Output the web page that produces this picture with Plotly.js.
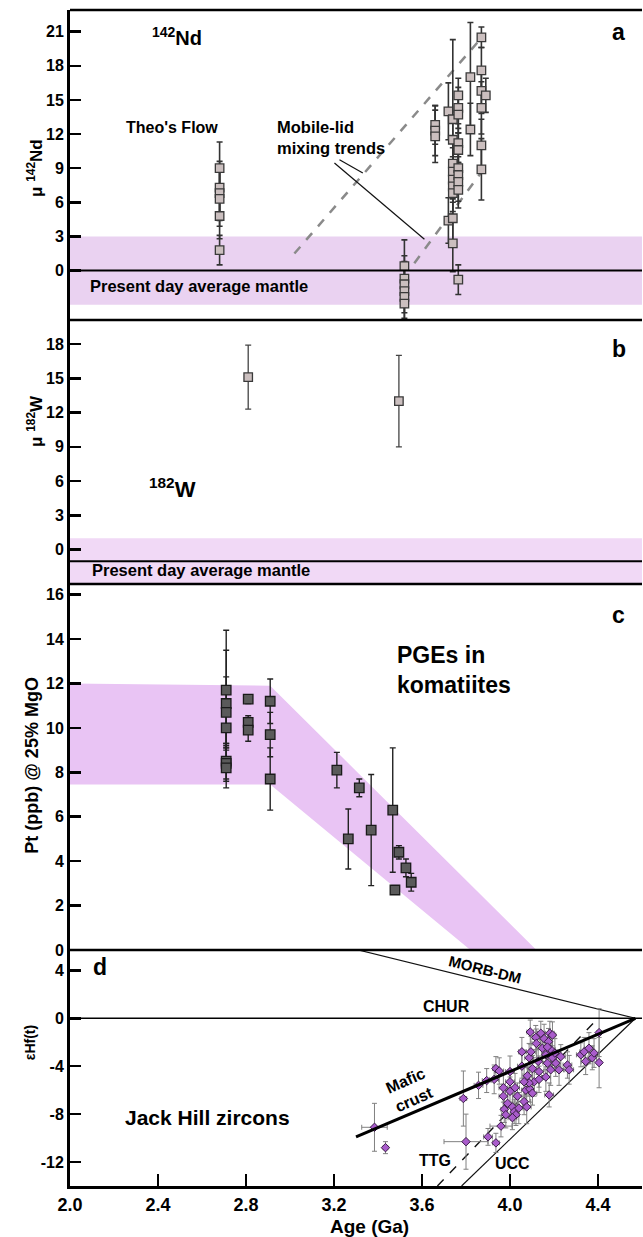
<!DOCTYPE html>
<html><head><meta charset="utf-8">
<script src="https://cdn.plot.ly/plotly-3.0.1.min.js"></script>
<style>html,body{margin:0;padding:0;background:#fff}#chart{width:643px;height:1237px}</style>
</head><body><div id="chart"></div>
<script>
// ---------- Panel a: mu 142Nd ----------
const ndAge = [2.68,2.68,2.68,2.68,2.68,2.68, 3.52,3.52,3.52,3.52,3.52,3.52, 3.66,3.66,3.66, 3.72,3.72,
  3.74,3.74,3.74,3.74,3.74,3.74,3.74,3.74,3.74, 3.765,3.765,3.765,3.765,3.765,3.765,3.765,3.765,3.765,3.765,
  3.82,3.82, 3.87,3.87,3.87,3.87,3.87,3.87, 3.89];
const ndMu = [9.0,7.3,6.8,6.3,4.8,1.8, 0.4,-0.7,-1.2,-1.8,-2.3,-2.9, 12.8,12.3,11.8, 14.0,4.4,
  13.3,11.5,9.4,8.7,8.0,7.4,6.8,4.6,2.4, 15.4,14.3,13.7,11.2,10.6,9.0,8.4,7.8,7.1,-0.8,
  17.0,12.4, 20.5,17.6,15.8,14.3,11.0,8.9, 15.4];
const ndErr = [2.3,2.3,2.4,2.4,2.0,1.3, 2.3,2.0,2.0,1.9,1.9,1.7, 1.7,2.2,2.3, 2.5,2.0,
  7.0,2.2,2.0,2.1,2.0,2.2,2.1,2.1,2.5, 1.5,1.8,1.6,1.7,1.5,1.8,1.6,1.7,1.6,1.3,
  4.8,2.3, 0.9,2.0,2.0,2.3,2.3,2.7, 1.5];
const ndBand = [-3, 3];
const mixUpperX = [3.02, 3.868], mixUpperY = [1.5, 20.4];
const mixLowerX = [3.565, 3.868], mixLowerY = [0.65, 8.6];
const leader1X = [3.225, 3.331], leader1Y = [9.74, 8.57];
const leader2X = [3.202, 3.611], leader2Y = [9.45, 2.76];

// ---------- Panel b: mu 182W ----------
const wAge = [2.81, 3.495];
const wMu = [15.1, 13.0];
const wErr = [2.8, 4.0];
const wBand = [-3, 1];
const wMantle = -1;

// ---------- Panel c: Pt in komatiites ----------
const pgeAge = [2.71,2.71,2.71,2.71,2.71,2.71,2.71, 2.81,2.81,2.81, 2.91,2.91,2.91,
  3.213,3.265,3.315,3.369,3.467,3.477,3.495,3.527,3.551];
const pgePt = [11.7,11.1,10.7,10.0,8.5,8.4,8.2, 11.3,10.25,9.9, 11.2,9.7,7.7,
  8.1,5.0,7.3,5.4,6.3,2.7,4.4,3.7,3.05];
const pgeErr = [2.7,2.4,1.6,0.7,0.8,0.8,0.9, 0.2,0.3,0.5, 1.0,1.0,1.4,
  0.8,1.35,0.4,2.5,2.8,0,0.3,0.4,0.4];
const pgeBandX = [2.0, 2.91, 4.12, 3.82, 2.91, 2.0];
const pgeBandY = [12.0, 11.9, 0, 0, 7.45, 7.45];

// ---------- Panel d: Jack Hills zircons ----------
const hfAge = [3.384,3.434,3.788,3.800,3.857,3.894,3.900,3.936,3.928,3.936,
  3.951,3.959,3.970,3.970,3.974,3.989,4.000,4.000,4.000,4.011,
  4.019,4.027,4.023,4.034,4.040,4.054,4.054,4.064,4.072,4.076,
  4.079,4.087,4.090,4.092,4.095,4.102,4.110,4.117,4.120,4.128,
  4.132,4.140,4.147,4.155,4.163,4.170,4.175,4.181,4.185,4.193,
  4.185,4.193,4.178,4.204,4.208,4.223,4.231,4.261,4.269,4.322,
  4.337,4.344,4.359,4.374,4.382,4.405,4.405,4.132,4.163,4.102,
  4.087,4.064,4.011,3.981,4.170];
const hfEps = [-9.1,-10.8,-6.7,-10.3,-5.6,-5.2,-9.9,-10.4,-5.1,-4.2,
  -4.4,-9.0,-5.8,-6.5,-7.6,-7.1,-4.45,-5.3,-6.1,-7.4,
  -7.8,-8.05,-5.8,-6.5,-7.5,-2.8,-4.0,-6.95,-6.0,-7.4,
  -4.8,-3.3,-5.9,-1.15,-2.8,-4.2,-5.3,-1.6,-2.1,-3.6,
  -4.45,-1.25,-2.5,-1.7,-3.05,-3.75,-1.95,-1.25,-4.3,-1.4,
  -2.6,-3.3,-6.4,-2.9,-3.75,-4.3,-3.2,-3.9,-4.3,-3.05,
  -2.8,-3.6,-2.5,-3.3,-2.9,-1.2,-3.7,-5.1,-4.9,-6.25,
  -5.4,-5.3,-8.3,-8.05,-2.4];
const hfYErr = [2.0,0.5,2.3,2.3,1.1,1.0,0.7,0.8,1.2,1.0,
  1.1,0.9,1.2,1.0,1.1,1.2,1.3,1.0,1.2,1.1,
  1.0,0.9,1.2,1.1,1.3,1.2,1.0,1.1,1.2,1.4,
  1.0,1.2,1.1,1.0,1.3,1.1,1.2,1.0,1.2,1.1,
  1.3,1.0,1.1,1.2,1.0,1.2,1.1,1.0,1.3,1.1,
  1.2,1.0,1.0,1.2,1.1,1.3,1.0,1.1,1.2,1.0,
  1.2,1.1,1.3,1.0,1.2,2.0,2.1,1.1,1.2,1.0,
  1.1,1.2,1.0,1.1,1.2];
const hfXErr = [0.058,0.01,0.015,0.1,0.02,0.02,0.02,0.015,0.02,0.015,
  0.02,0.05,0.02,0.02,0.015,0.02,0.02,0.02,0.02,0.02,
  0.015,0.015,0.02,0.02,0.02,0.015,0.02,0.03,0.02,0.02,
  0.02,0.02,0.02,0.015,0.02,0.02,0.02,0.015,0.02,0.02,
  0.02,0.015,0.02,0.02,0.02,0.02,0.015,0.02,0.03,0.015,
  0.02,0.02,0.02,0.02,0.02,0.02,0.02,0.02,0.02,0.02,
  0.02,0.02,0.02,0.02,0.02,0.01,0.01,0.03,0.02,0.02,
  0.02,0.02,0.02,0.02,0.02];
const morbX = [3.31, 4.57], morbY = [5.7, 0];
const maficX = [3.30, 4.57], maficY = [-9.9, 0];
const ttgX = [3.67, 4.40], ttgY = [-14, 0];
const uccX = [3.78, 4.57], uccY = [-14, 0];
const churY = 0;

// ---------- axes ----------
const xTicks = [2.0, 2.4, 2.8, 3.2, 3.6, 4.0, 4.4];
const xTickText = ['2.0','2.4','2.8','3.2','3.6','4.0','4.4'];
const yTicksA = [0,3,6,9,12,15,18,21];
const yTicksB = [0,3,6,9,12,15,18];
const yTicksC = [0,2,4,6,8,10,12,14,16];
const yTicksD = [-12,-8,-4,0,4];
const yTickTextD = ['-12','-8','-4','0','4'];

const FONT = 'Liberation Sans, Arial, Helvetica, sans-serif';
const bold = (s) => ({family: FONT, size: s, color: '#000', weight: 'bold'});
const B = (arr) => arr.map(v => '<b>' + v + '</b>');

const traces = [];
// panel a
traces.push({x: mixUpperX, y: mixUpperY, xaxis:'x', yaxis:'y', mode:'lines',
  line:{color:'#8a8a8a', width:2.5, dash:'dash'}, hoverinfo:'skip'});
traces.push({x: mixLowerX, y: mixLowerY, xaxis:'x', yaxis:'y', mode:'lines',
  line:{color:'#8a8a8a', width:2.5, dash:'dash'}, hoverinfo:'skip'});
traces.push({x: leader1X, y: leader1Y, xaxis:'x', yaxis:'y', mode:'lines',
  line:{color:'#111', width:1.2}, hoverinfo:'skip'});
traces.push({x: leader2X, y: leader2Y, xaxis:'x', yaxis:'y', mode:'lines',
  line:{color:'#111', width:1.2}, hoverinfo:'skip'});
traces.push({x: ndAge, y: ndMu, xaxis:'x', yaxis:'y', mode:'markers', type:'scatter',
  error_y:{type:'data', array: ndErr, visible:true, color:'#333', thickness:1.6, width:3},
  marker:{symbol:'square', size:8.5, color:'#cbbfbf', line:{color:'#3a3a3a', width:1.3}}});
// panel b
traces.push({x: wAge, y: wMu, xaxis:'x', yaxis:'y2', mode:'markers', type:'scatter',
  error_y:{type:'data', array: wErr, visible:true, color:'#444', thickness:1.3, width:3},
  marker:{symbol:'square', size:8.5, color:'#cbbfbf', line:{color:'#3a3a3a', width:1.3}}});
// panel c
traces.push({x: pgeBandX, y: pgeBandY, xaxis:'x', yaxis:'y3', mode:'lines', fill:'toself',
  fillcolor:'#e9c4f4', line:{width:0, color:'rgba(0,0,0,0)'}, hoverinfo:'skip'});
traces.push({x: pgeAge, y: pgePt, xaxis:'x', yaxis:'y3', mode:'markers', type:'scatter',
  error_y:{type:'data', array: pgeErr, visible:true, color:'#222', thickness:1.4, width:3},
  marker:{symbol:'square', size:9.5, color:'#5a5a5a', line:{color:'#1a1a1a', width:1.3}}});
// panel d
traces.push({x: morbX, y: morbY, xaxis:'x', yaxis:'y4', mode:'lines',
  line:{color:'#111', width:1.2}, hoverinfo:'skip'});
traces.push({x: uccX, y: uccY, xaxis:'x', yaxis:'y4', mode:'lines',
  line:{color:'#111', width:1.2}, hoverinfo:'skip'});
traces.push({x: ttgX, y: ttgY, xaxis:'x', yaxis:'y4', mode:'lines',
  line:{color:'#111', width:1.4, dash:'dash'}, hoverinfo:'skip'});
traces.push({x: hfAge, y: hfEps, xaxis:'x', yaxis:'y4', mode:'markers', type:'scatter',
  error_y:{type:'data', array: hfYErr, visible:true, color:'#808080', thickness:1, width:2.5},
  error_x:{type:'data', array: hfXErr, visible:true, color:'#808080', thickness:1, width:2.5},
  marker:{symbol:'diamond', size:6.5, color:'#a95ccb', line:{color:'#3b1d47', width:1}}});
traces.push({x: maficX, y: maficY, xaxis:'x', yaxis:'y4', mode:'lines',
  line:{color:'#000', width:3}, hoverinfo:'skip'});

const yBase = {anchor:'x', showline:true, linecolor:'#000', linewidth:3, ticks:'inside',
  ticklen:11, tickwidth:2.5, tickcolor:'#000', showgrid:false, zeroline:false,
  tickfont: bold(16), fixedrange:true};

const domA = [0.7364, 1], domB = [0.5119, 0.7364], domC = [0.2007, 0.5119], domD = [0, 0.2007];

const layout = {
  width: 643, height: 1237,
  margin: {l:70, r:1, t:10, b:51},
  paper_bgcolor:'#fff', plot_bgcolor:'#fff',
  showlegend:false,
  font:{family: FONT, color:'#000'},
  xaxis: {domain:[0,1], range:[2.0, 4.6], anchor:'y4', showline:true, linecolor:'#000', linewidth:3,
    ticks:'inside', ticklen:12, tickwidth:2.5, tickcolor:'#000', tickvals:xTicks, ticktext:B(xTickText),
    tickfont: bold(18), showgrid:false, zeroline:false},
  yaxis: Object.assign({}, yBase, {domain:domA, range:[-4.34, 22.9], tickvals:yTicksA, ticktext:B(yTicksA)}),
  yaxis2: Object.assign({}, yBase, {domain:domB, range:[-3, 20.1], tickvals:yTicksB, ticktext:B(yTicksB)}),
  yaxis3: Object.assign({}, yBase, {domain:domC, range:[0, 16.48], tickvals:yTicksC, ticktext:B(yTicksC)}),
  yaxis4: Object.assign({}, yBase, {domain:domD, range:[-14, 5.7], tickvals:yTicksD, ticktext:B(yTickTextD)}),
  shapes: [
    {type:'rect', xref:'x', yref:'y', x0:2.0, x1:4.6, y0:ndBand[0], y1:ndBand[1],
      fillcolor:'#ead2f1', line:{width:0}, layer:'below'},
    {type:'line', xref:'x', yref:'y', x0:2.0, x1:4.6, y0:0, y1:0, line:{color:'#000', width:2}},
    {type:'rect', xref:'x', yref:'y2', x0:2.0, x1:4.6, y0:wBand[0], y1:wBand[1],
      fillcolor:'#f1d9f6', line:{width:0}, layer:'below'},
    {type:'line', xref:'x', yref:'y2', x0:2.0, x1:4.6, y0:wMantle, y1:wMantle, line:{color:'#000', width:2}},
    {type:'line', xref:'x', yref:'y4', x0:2.0, x1:4.6, y0:churY, y1:churY, line:{color:'#000', width:1.6}},
    {type:'line', xref:'paper', yref:'paper', x0:0, x1:1, y0:1, y1:1, line:{color:'#000', width:2.5}},
    {type:'line', xref:'paper', yref:'paper', x0:0, x1:1, y0:domA[0], y1:domA[0], line:{color:'#000', width:2.5}},
    {type:'line', xref:'paper', yref:'paper', x0:0, x1:1, y0:domB[0], y1:domB[0], line:{color:'#000', width:2.5}},
    {type:'line', xref:'paper', yref:'paper', x0:0, x1:1, y0:domC[0], y1:domC[0], line:{color:'#000', width:2.5}}
  ],
  annotations: [
    // axis titles
    {xref:'paper', yref:'paper', x:-0.084, y:0.892, text:'<b>μ <sup>142</sup>Nd</b>', textangle:-90, showarrow:false, font:bold(17)},
    {xref:'paper', yref:'paper', x:-0.084, y:0.6505, text:'<b>μ <sup>182</sup>W</b>', textangle:-90, showarrow:false, font:bold(17)},
    {xref:'paper', yref:'paper', x:-0.088, y:0.358, text:'<b>Pt (ppb) @ 25% MgO</b>', textangle:-90, showarrow:false, font:bold(18)},
    {xref:'paper', yref:'paper', x:-0.088, y:0.1054, text:'<b>εHf(t)</b>', textangle:-90, showarrow:false, font:bold(14)},
    {xref:'paper', yref:'paper', x:0.524, y:-0.0345, text:'<b>Age (Ga)</b>', showarrow:false, font:bold(19), yanchor:'middle'},
    // panel a
    {xref:'x', yref:'y', x:2.486, y:20.55, text:'<b><sup>142</sup>Nd</b>', showarrow:false, font:bold(20)},
    {xref:'x', yref:'y', x:4.495, y:21.0, text:'<b>a</b>', showarrow:false, font:bold(23)},
    {xref:'x', yref:'y', x:2.463, y:12.6, text:"<b>Theo's Flow</b>", showarrow:false, font:bold(16)},
    {xref:'x', yref:'y', x:2.93, y:11.7, text:'<b>Mobile-lid<br>mixing trends</b>', align:'left', xanchor:'left', showarrow:false, font:bold(16.5)},
    {xref:'x', yref:'y', x:2.082, y:-1.35, text:'<b>Present day average mantle</b>', xanchor:'left', showarrow:false, font:bold(16.5)},
    // panel b
    {xref:'x', yref:'y2', x:2.467, y:5.4, text:'<b><sup>182</sup>W</b>', showarrow:false, font:bold(22)},
    {xref:'x', yref:'y2', x:4.495, y:17.55, text:'<b>b</b>', showarrow:false, font:bold(23)},
    {xref:'x', yref:'y2', x:2.09, y:-1.75, text:'<b>Present day average mantle</b>', xanchor:'left', showarrow:false, font:bold(16.5)},
    // panel c
    {xref:'x', yref:'y3', x:4.495, y:15.1, text:'<b>c</b>', showarrow:false, font:bold(23)},
    {xref:'x', yref:'y3', x:3.475, y:12.6, text:'<b>PGEs in<br>komatiites</b>', align:'left', xanchor:'left', showarrow:false, font:bold(23)},
    // panel d
    {xref:'x', yref:'y4', x:2.136, y:4.3, text:'<b>d</b>', showarrow:false, font:bold(23)},
    {xref:'x', yref:'y4', x:3.71, y:0.95, text:'<b>CHUR</b>', showarrow:false, font:bold(16)},
    {xref:'x', yref:'y4', x:3.887, y:4.1, text:'<b>MORB-DM</b>', textangle:14, showarrow:false, font:bold(15)},
    {xref:'x', yref:'y4', x:3.545, y:-5.95, text:'<b>Mafic<br>crust</b>', textangle:-24, showarrow:false, font:bold(16)},
    {xref:'x', yref:'y4', x:3.66, y:-11.9, text:'<b>TTG</b>', showarrow:false, font:bold(16)},
    {xref:'x', yref:'y4', x:4.01, y:-12.1, text:'<b>UCC</b>', showarrow:false, font:bold(16)},
    {xref:'x', yref:'y4', x:2.626, y:-8.3, text:'<b>Jack Hill zircons</b>', showarrow:false, font:bold(21)}
  ]
};

Plotly.newPlot('chart', traces, layout, {staticPlot:true, displayModeBar:false});
</script></body></html>
